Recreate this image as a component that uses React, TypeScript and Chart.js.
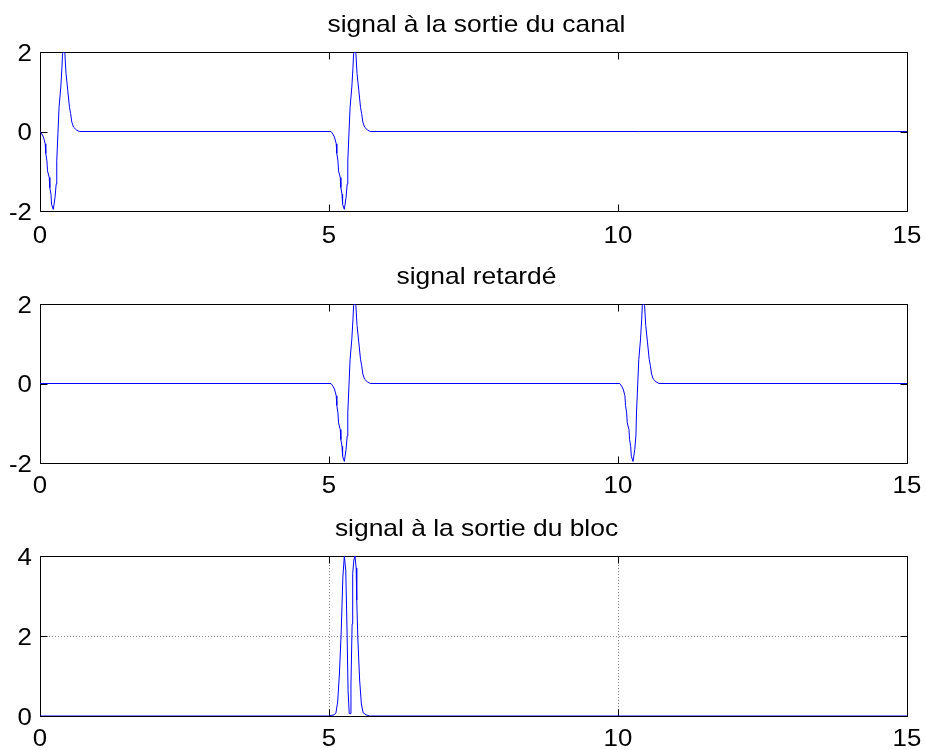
import React, { useEffect, useRef } from 'react';
import { Chart, registerables } from 'chart.js';

Chart.register(...registerables);

// ---- data ----
const xTicks = [0, 5, 10, 15];
const xMin = 0;
const xMax = 15;

// shape of one received pulse: time offset from pulse start, amplitude
const pulseOffsets = [0, 0.03, 0.06, 0.09, 0.10, 0.12, 0.13, 0.16, 0.17, 0.19, 0.20, 0.23, 0.26, 0.28, 0.29, 0.31, 0.33, 0.36, 0.38, 0.39, 0.41, 0.43, 0.45, 0.48, 0.51, 0.53, 0.55, 0.58, 0.63, 0.68];
const pulseValues = [0, -0.06, -0.14, -0.31, -0.55, -0.74, -0.99, -1.16, -1.41, -1.58, -1.83, -1.96, -1.66, -1.32, -0.74, -0.06, 0.61, 1.12, 1.62, 1.96, 2.0, 1.96, 1.46, 1.04, 0.61, 0.45, 0.24, 0.11, 0.04, 0];

const canalPulseStarts = [0.0, 5.035];
const retardPulseStarts = [5.035, 10.03];

const blocTimes = [5.0, 5.09, 5.12, 5.15, 5.18, 5.21, 5.24, 5.265, 5.29, 5.31, 5.33, 5.35, 5.37, 5.38, 5.40, 5.41, 5.43, 5.45, 5.47, 5.48, 5.50, 5.53, 5.56, 5.59, 5.64, 5.70];
const blocValues = [0, 0.03, 0.08, 0.35, 1.05, 2.05, 3.47, 4.0, 3.64, 2.3, 0.63, 0.06, 0.06, 0.8, 2.3, 3.56, 3.9, 4.0, 3.7, 2.9, 1.9, 0.9, 0.3, 0.08, 0.03, 0];

const titles = ['signal à la sortie du canal', 'signal retardé', 'signal à la sortie du bloc'];
const yTicksCanal = [-2, 0, 2];
const yTicksRetard = [-2, 0, 2];
const yTicksBloc = [0, 2, 4];

type Pt = { x: number; y: number };

function pulseTrain(starts: number[]): Pt[] {
  const pts: Pt[] = [{ x: xMin, y: 0 }];
  starts.forEach((s) => {
    pulseOffsets.forEach((o, i) => pts.push({ x: s + o, y: pulseValues[i] }));
  });
  pts.push({ x: xMax, y: 0 });
  return pts;
}

function blocTrain(): Pt[] {
  const pts: Pt[] = [{ x: xMin, y: 0 }];
  blocTimes.forEach((t, i) => pts.push({ x: t, y: blocValues[i] }));
  pts.push({ x: xMax, y: 0 });
  return pts;
}

const FONT = "'Liberation Sans', Arial, sans-serif";
const W = 926;
const H = 250;
const AREA_LEFT = 40;
const AREA_RIGHT = 907;
const STRETCH = 1.1;

function stretchedText(ctx: CanvasRenderingContext2D, text: string, x: number, y: number, align: CanvasTextAlign, size: number) {
  ctx.save();
  ctx.font = `${size}px ${FONT}`;
  ctx.fillStyle = '#000';
  ctx.textAlign = align;
  ctx.textBaseline = 'alphabetic';
  ctx.translate(x, y);
  ctx.scale(STRETCH, 1);
  ctx.fillText(text, 0, 0);
  ctx.restore();
}

interface SubProps {
  top: number;
  areaTop: number;
  areaBottom: number;
  titleBase: number;
  labelGap: number;
  title: string;
  data: Pt[];
  yTicks: number[];
  grid: boolean;
}

function SubPlot(props: SubProps) {
  const ref = useRef<HTMLCanvasElement | null>(null);
  useEffect(() => {
    const canvas = ref.current;
    if (!canvas) return;
    const yMin = props.yTicks[0];
    const yMax = props.yTicks[props.yTicks.length - 1];
    const tickLen = 7;
    const plugin = {
      id: 'matlabFrame',
      beforeDatasetsDraw(chart: any) {
        const { ctx, chartArea: a, scales } = chart;
        ctx.save();
        if (props.grid) {
          ctx.strokeStyle = '#8c8c8c';
          ctx.lineWidth = 1;
          ctx.setLineDash([1, 2]);
          xTicks.forEach((v) => {
            const px = Math.round(scales.x.getPixelForValue(v)) + 0.5;
            ctx.beginPath();
            ctx.moveTo(px, a.top);
            ctx.lineTo(px, a.bottom);
            ctx.stroke();
          });
          props.yTicks.forEach((v) => {
            const py = Math.round(scales.y.getPixelForValue(v)) + 0.5;
            ctx.beginPath();
            ctx.moveTo(a.left, py);
            ctx.lineTo(a.right, py);
            ctx.stroke();
          });
          ctx.setLineDash([]);
        }
        ctx.strokeStyle = '#000';
        ctx.lineWidth = 1;
        const l = Math.round(a.left) + 0.5;
        const r = Math.round(a.right) + 0.5;
        const t = Math.round(a.top) + 0.5;
        const b = Math.round(a.bottom) + 0.5;
        ctx.strokeRect(l, t, r - l, b - t);
        ctx.beginPath();
        xTicks.forEach((v) => {
          const px = Math.round(scales.x.getPixelForValue(v)) + 0.5;
          ctx.moveTo(px, t);
          ctx.lineTo(px, t + tickLen);
          ctx.moveTo(px, b);
          ctx.lineTo(px, b - tickLen);
        });
        props.yTicks.forEach((v) => {
          const py = Math.round(scales.y.getPixelForValue(v)) + 0.5;
          ctx.moveTo(l, py);
          ctx.lineTo(l + tickLen, py);
          ctx.moveTo(r, py);
          ctx.lineTo(r - tickLen, py);
        });
        ctx.stroke();
        ctx.restore();
      },
      afterDraw(chart: any) {
        const { ctx, chartArea: a, scales } = chart;
        stretchedText(ctx, props.title, (a.left + a.right) / 2 + 3, props.titleBase, 'center', 24);
        xTicks.forEach((v) => {
          const px = scales.x.getPixelForValue(v);
          stretchedText(ctx, String(v), px, a.bottom + props.labelGap, 'center', 23.5);
        });
        props.yTicks.forEach((v) => {
          const py = scales.y.getPixelForValue(v);
          stretchedText(ctx, String(v), a.left - 8, py + 8.5, 'right', 23.5);
        });
      },
    };

    const chart = new Chart(canvas, {
      type: 'line',
      data: {
        datasets: [
          {
            data: props.data,
            borderColor: '#0000ff',
            borderWidth: 1,
            pointRadius: 0,
            tension: 0,
            fill: false,
          },
        ],
      },
      options: {
        animation: false,
        responsive: false,
        parsing: false as any,
        layout: { padding: { top: props.areaTop, right: W - AREA_RIGHT, left: 0, bottom: 0 } },
        plugins: {
          legend: { display: false },
          title: { display: false },
          tooltip: { enabled: false },
        },
        scales: {
          x: {
            type: 'linear',
            min: xMin,
            max: xMax,
            afterBuildTicks: (s: any) => {
              s.ticks = xTicks.map((v) => ({ value: v }));
            },
            grid: { display: false, drawTicks: false },
            border: { display: false },
            ticks: { display: false },
            afterFit: (s: any) => {
              s.height = H - props.areaBottom;
            },
          },
          y: {
            type: 'linear',
            min: yMin,
            max: yMax,
            afterBuildTicks: (s: any) => {
              s.ticks = props.yTicks.map((v) => ({ value: v }));
            },
            grid: { display: false, drawTicks: false },
            border: { display: false },
            ticks: { display: false },
            afterFit: (s: any) => {
              s.width = AREA_LEFT;
            },
          },
        },
      } as any,
      plugins: [plugin],
    });
    return () => chart.destroy();
  }, []);

  return (
    <div style={{ position: 'absolute', left: 0, top: props.top, width: W, height: H }}>
      <canvas ref={ref} width={W} height={H} style={{ width: W, height: H, display: 'block' }} />
    </div>
  );
}

export default function App() {
  return (
    <div style={{ position: 'absolute', left: 0, top: 0, width: W, height: 750, background: '#fff' }}>
      <SubPlot top={0} areaTop={52} areaBottom={211} titleBase={32} labelGap={32} title={titles[0]} data={pulseTrain(canalPulseStarts)} yTicks={yTicksCanal} grid={false} />
      <SubPlot top={250} areaTop={54} areaBottom={213} titleBase={34} labelGap={30} title={titles[1]} data={pulseTrain(retardPulseStarts)} yTicks={yTicksRetard} grid={false} />
      <SubPlot top={500} areaTop={56} areaBottom={216} titleBase={36} labelGap={30} title={titles[2]} data={blocTrain()} yTicks={yTicksBloc} grid={true} />
    </div>
  );
}
